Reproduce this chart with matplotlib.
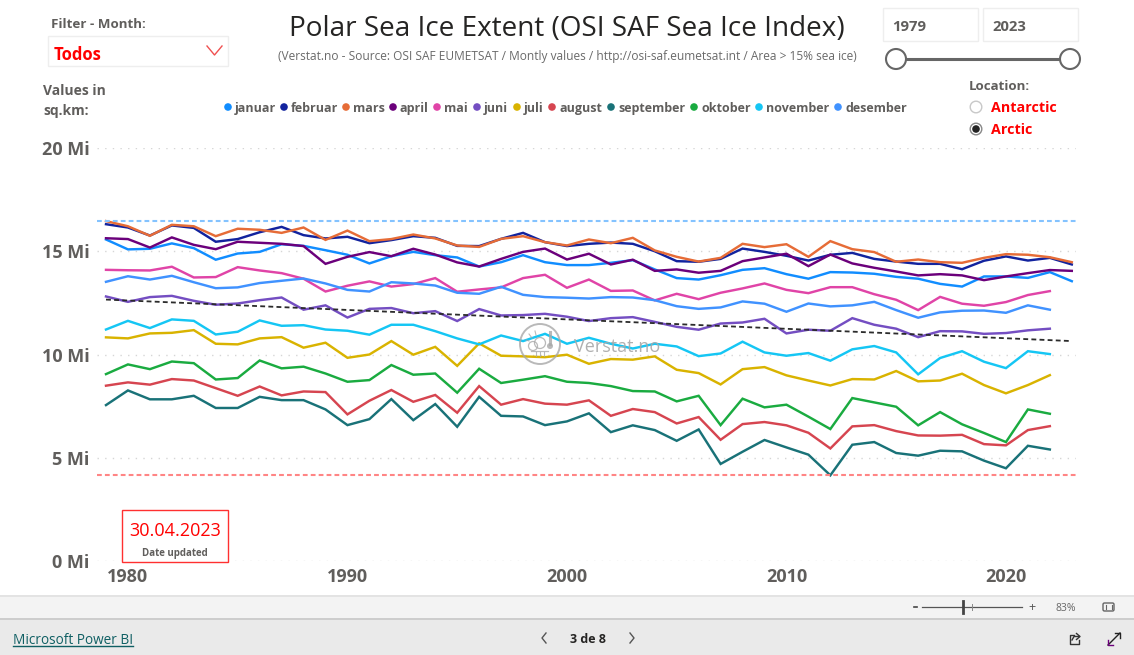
#%% Importing libraries

import numpy as np
import matplotlib
matplotlib.use('Agg')
from matplotlib import pyplot as plt
from matplotlib.patches import Rectangle, Circle, FancyBboxPatch

plt.rcParams['font.family'] = ['Open Sans', 'DejaVu Sans']

#%% Data (millions of sq.km)

years = list(range(1979, 2024))

januar = [15.57, 15.09, 15.12, 15.38, 15.15, 14.59, 14.89, 14.97, 15.34, 15.26, 15.05, 14.83, 14.41, 14.76, 14.97,
          14.81, 14.70, 14.26, 14.47, 14.81, 14.47, 14.33, 14.33, 14.44, 14.57, 14.12, 13.70, 13.63, 13.84, 14.10,
          14.18, 13.89, 13.67, 13.99, 13.97, 13.91, 13.76, 13.67, 13.42, 13.29, 13.78, 13.78, 13.71, 13.99, 13.55]
februar = [16.31, 16.15, 15.76, 16.25, 16.13, 15.46, 15.59, 15.92, 16.18, 15.78, 15.62, 15.70, 15.39, 15.54, 15.73,
           15.65, 15.26, 15.25, 15.60, 15.89, 15.44, 15.25, 15.36, 15.42, 15.36, 15.00, 14.52, 14.49, 14.63, 15.13,
           14.97, 14.78, 14.55, 14.83, 14.92, 14.63, 14.50, 14.39, 14.39, 14.13, 14.54, 14.75, 14.55, 14.68, 14.36]
mars = [16.46, 16.21, 15.75, 16.28, 16.21, 15.73, 16.09, 16.04, 15.89, 16.15, 15.55, 16.00, 15.49, 15.59, 15.81,
        15.62, 15.28, 15.21, 15.60, 15.73, 15.44, 15.28, 15.57, 15.39, 15.65, 15.04, 14.73, 14.50, 14.68, 15.36,
        15.20, 15.34, 14.73, 15.49, 15.10, 14.96, 14.49, 14.60, 14.47, 14.44, 14.68, 14.86, 14.83, 14.71, 14.47]
april = [15.63, 15.59, 15.18, 15.67, 15.31, 15.10, 15.46, 15.41, 15.36, 15.25, 14.39, 14.73, 14.96, 14.76, 15.12,
         14.84, 14.46, 14.26, 14.63, 14.97, 15.13, 14.60, 14.88, 14.36, 14.59, 14.05, 14.12, 13.96, 14.05, 14.52,
         14.70, 14.88, 14.28, 14.84, 14.41, 14.20, 14.02, 13.83, 13.89, 13.83, 13.60, 13.78, 13.94, 14.09, 14.05]
mai = [14.10, 14.08, 14.07, 14.25, 13.73, 13.75, 14.23, 14.07, 13.94, 13.67, 13.05, 13.33, 13.54, 13.29, 13.41,
       13.70, 13.04, 13.15, 13.25, 13.70, 13.86, 13.23, 13.63, 13.08, 13.10, 12.62, 12.94, 12.68, 12.99, 13.20,
       13.44, 13.13, 12.97, 13.26, 13.26, 12.92, 12.65, 12.15, 12.79, 12.46, 12.36, 12.54, 12.88, 13.07]
juni = [12.81, 12.55, 12.78, 12.84, 12.60, 12.41, 12.47, 12.63, 12.76, 12.17, 12.38, 11.79, 12.21, 12.25, 12.00,
        12.10, 11.62, 12.20, 11.89, 11.91, 11.97, 11.83, 11.62, 11.76, 11.81, 11.58, 11.34, 11.20, 11.50, 11.55,
        11.73, 11.02, 11.20, 11.15, 11.76, 11.44, 11.25, 10.84, 11.13, 11.12, 11.00, 11.04, 11.17, 11.25]
juli = [10.83, 10.78, 11.02, 11.05, 11.18, 10.52, 10.49, 10.78, 10.84, 10.33, 10.57, 9.84, 10.00, 10.65, 9.99,
        10.37, 9.45, 10.54, 9.94, 9.91, 9.87, 9.99, 9.55, 9.78, 9.75, 9.91, 9.26, 9.10, 8.55, 9.29,
        9.39, 8.99, 8.74, 8.50, 8.81, 8.79, 9.20, 8.70, 8.74, 9.07, 8.52, 8.12, 8.52, 9.00]
august = [8.49, 8.65, 8.54, 8.81, 8.74, 8.37, 8.00, 8.45, 8.02, 8.21, 8.18, 7.10, 7.76, 8.28, 7.71,
          8.04, 7.18, 8.47, 7.57, 7.84, 7.62, 7.57, 7.78, 7.03, 7.36, 7.21, 6.66, 6.97, 5.87, 6.63,
          6.73, 6.57, 6.21, 5.45, 6.52, 6.58, 6.29, 6.08, 6.07, 6.11, 5.66, 5.60, 6.34, 6.53]
september = [7.55, 8.26, 7.83, 7.83, 8.00, 7.41, 7.41, 7.95, 7.79, 7.79, 7.34, 6.58, 6.87, 7.84, 6.82,
             7.60, 6.50, 7.95, 7.03, 7.00, 6.58, 6.76, 7.15, 6.24, 6.57, 6.34, 5.82, 6.37, 4.70, 5.29,
             5.86, 5.50, 5.15, 4.15, 5.63, 5.76, 5.23, 5.10, 5.34, 5.31, 4.86, 4.49, 5.58, 5.40]
oktober = [9.05, 9.52, 9.29, 9.66, 9.58, 8.79, 8.86, 9.71, 9.33, 9.41, 9.08, 8.68, 8.76, 9.49, 9.02,
           9.08, 8.15, 9.31, 8.62, 8.78, 8.95, 8.68, 8.62, 8.47, 8.23, 8.21, 7.73, 8.00, 6.58, 7.86,
           7.44, 7.57, 6.99, 6.39, 7.89, 7.68, 7.47, 6.57, 7.21, 6.62, 6.20, 5.76, 7.34, 7.13]
november = [11.21, 11.63, 11.28, 11.70, 11.63, 10.97, 11.10, 11.65, 11.39, 11.42, 11.21, 11.15, 10.96, 11.44, 11.44,
            11.13, 10.78, 10.49, 10.92, 10.65, 11.00, 10.52, 10.81, 10.52, 10.29, 10.52, 10.39, 9.92, 10.05, 10.62,
            10.10, 9.94, 10.07, 9.70, 10.25, 10.41, 10.10, 9.04, 9.83, 10.16, 9.65, 9.34, 10.16, 10.02]
desember = [13.52, 13.79, 13.63, 13.81, 13.50, 13.21, 13.25, 13.46, 13.57, 13.68, 13.44, 13.13, 13.05, 13.50, 13.44,
            13.34, 12.99, 12.94, 13.28, 12.89, 12.78, 12.75, 12.71, 12.78, 12.76, 12.63, 12.34, 12.21, 12.28, 12.57,
            12.46, 12.07, 12.47, 12.33, 12.38, 12.55, 12.15, 11.78, 12.04, 12.12, 12.13, 12.02, 12.38, 12.17]

month_names = ['januar', 'februar', 'mars', 'april', 'mai', 'juni', 'juli', 'august',
               'september', 'oktober', 'november', 'desember']
month_values = [januar, februar, mars, april, mai, juni, juli, august, september, oktober, november, desember]
month_colors = ['#118DFF', '#12239E', '#E66C37', '#6B007B', '#E044A7', '#744EC2',
                '#D9B300', '#D64550', '#197278', '#1AAB40', '#15C6F4', '#4092FF']

max_extent = 16.47
min_extent = 4.15
trend_years = [1979, 2023]
trend_values = [12.66, 10.65]

y_ticks = [0, 5, 10, 15, 20]
x_ticks = [1980, 1990, 2000, 2010, 2020]

grey = '#605E5C'
red = '#FF0000'

#%% Figure and chart axes (axes box placed in pixels)

W, H = 1134, 655
fig = plt.figure(figsize=(W/100, H/100), dpi=100, facecolor='white')

ax = fig.add_axes([97/W, (H-561)/H, 979/W, 413/H])
ax.set_xlim(1979-9/21.95, 1979+970/21.95)
ax.set_ylim(0, 20)
for s in ax.spines.values():
    s.set_visible(False)
ax.set_yticks(y_ticks)
ax.set_yticklabels(['%d Mi' % v for v in y_ticks], fontsize=13, fontweight='bold', color=grey)
ax.set_xticks(x_ticks)
ax.set_xticklabels(x_ticks, fontsize=13, fontweight='bold', color=grey)
ax.tick_params(axis='both', length=0)
ax.tick_params(axis='y', pad=5.5)
ax.tick_params(axis='x', pad=5)
ax.grid(axis='y', color='#d6d6d6', lw=1, ls=(0, (1, 4.5)))
ax.set_axisbelow(True)

for name, vals, col in zip(month_names, month_values, month_colors):
    ax.plot(years[:len(vals)], vals, color=col, lw=1.75, solid_joinstyle='miter', label=name)

ax.axhline(max_extent, color='#84C3FF', lw=1.5, ls=(0, (2.3, 1.5)))
ax.axhline(min_extent, color='#FF8585', lw=1.5, ls=(0, (2.3, 1.5)))
ax.plot(trend_years, trend_values, color='#2b2b2b', lw=1.3, ls=(0, (2.7, 1.8)), zorder=3)

#%% Page overlay, in pixel coordinates

ui = fig.add_axes([0, 0, 1, 1], facecolor='none')
ui.set_xlim(0, W)
ui.set_ylim(H, 0)
ui.axis('off')

def txt(x, y, s, size, color=grey, weight='normal', ha='left', **kw):
    # y is the middle of the x-height row, baseline sits a bit under it
    return ui.text(x, y, s, fontsize=size, color=color, fontweight=weight, ha=ha,
                   va='center_baseline', **kw)

txt(567, 26, 'Polar Sea Ice Extent (OSI SAF Sea Ice Index)', 20.1, color='#252423', ha='center')
txt(567, 55, '(Verstat.no - Source: OSI SAF EUMETSAT / Montly values / http://osi-saf.eumetsat.int / Area > 15% sea ice)',
    8.55, color='#6a6a6a', ha='center')

# month filter
txt(51, 22.5, 'Filter - Month:', 9.6, weight='bold')
ui.add_patch(Rectangle((48, 36), 180, 30, fc='white', ec='#eeeeee', lw=1))
txt(54, 52.5, 'Todos', 12, color=red, weight='bold')
ui.plot([207, 214.5, 222], [46, 55, 46], color='#F05050', lw=1)

txt(43, 89.5, 'Values in', 10, weight='bold')
txt(43, 110, 'sq.km:', 10, weight='bold')

# legend row
dot_x = [228, 284, 346, 393, 437, 477, 517, 552, 611, 694, 759, 838]
for x, name, col in zip(dot_x, month_names, month_colors):
    ui.add_patch(Circle((x, 107), 3.8, fc=col, ec='none'))
    txt(x+7, 107, name, 9.0, weight='bold')

# year slicer
for x0, s in zip([883, 983], ['1979', '2023']):
    ui.add_patch(Rectangle((x0, 8), 94.5, 33, fc='white', ec='#eeeeee', lw=1))
    txt(x0+9, 25.5, s, 10.7, weight='bold')
ui.plot([896, 1070], [59, 59], color='#666666', lw=2.2, zorder=3)
for x in [896, 1070]:
    ui.add_patch(Circle((x, 59), 10, fc='white', ec='#666666', lw=1.5, zorder=4))

# location
txt(969, 84.5, 'Location:', 9.5, weight='bold')
txt(991, 106.5, 'Antarctic', 10.3, color=red, weight='bold')
txt(991, 128.5, 'Arctic', 10.3, color=red, weight='bold')
ui.add_patch(Circle((976, 107), 5.8, fc='white', ec='#c8c8c8', lw=1))
ui.add_patch(Circle((976, 129), 5.8, fc='white', ec='#888888', lw=1))
ui.add_patch(Circle((976, 129), 3.8, fc='#222222', ec='none'))

# date card
ui.add_patch(Rectangle((122, 510), 106, 52, fc='white', ec='#FF3030', lw=1, zorder=5))
txt(175, 529, '30.04.2023', 13, color=red, ha='center', zorder=6)
txt(175, 552, 'Date updated', 7, weight='bold', ha='center', zorder=6)

# watermark: ring, cloud, sun rays, thermometer, drips
wm = '#a8a8a8'
ui.add_patch(Circle((540, 344), 20, fc='none', ec=wm, lw=1.4, alpha=0.8, zorder=7))
ui.add_patch(Circle((533, 346), 4.5, fc='none', ec=wm, lw=0.9, alpha=0.8, zorder=7))
ui.add_patch(Circle((540, 343), 5.5, fc='none', ec=wm, lw=0.9, alpha=0.8, zorder=7))
ui.plot([531, 548], [350.5, 350.5], color=wm, lw=0.9, alpha=0.8, zorder=7)
ui.plot([550, 550], [332, 344], color=wm, lw=2.2, alpha=0.8, zorder=7)
ui.add_patch(Circle((550, 346), 3, fc=wm, ec='none', alpha=0.8, zorder=7))
for x0, y0, x1, y1 in [(529, 334, 532, 338), (535, 331, 536, 335), (526, 340, 529, 341)]:
    ui.plot([x0, x1], [y0, y1], color=wm, lw=0.8, alpha=0.8, zorder=7)
for x0 in [536, 540, 544]:
    ui.plot([x0, x0], [352, 356], color=wm, lw=0.8, alpha=0.8, zorder=7)
txt(574, 345, 'Verstat.no', 13, color=wm, alpha=0.9, zorder=7)

# footer bands
ui.add_patch(Rectangle((0, 595), W, 23, fc='#F3F3F3', ec='none'))
ui.add_patch(Rectangle((0, 618), W, 37, fc='#EAEAEA', ec='none'))
ui.plot([0, W], [595.5, 595.5], color='#E0E0E0', lw=1.2)
ui.plot([0, W], [618.5, 618.5], color='#C8C8C8', lw=1.2)

ui.plot([914, 917], [607, 607], color='#444444', lw=1.2)
ui.plot([922, 1022], [607, 607], color='#555555', lw=0.9)
ui.plot([963, 963], [601, 613], color='#444444', lw=2)
ui.plot([972, 972], [604, 610], color='#888888', lw=0.7)
txt(1032, 606.5, '+', 9, color='#555555', ha='center')
txt(1066, 607, '83%', 7.5, color='#666666', ha='center')
ui.add_patch(FancyBboxPatch((1103, 603), 11, 8, boxstyle='round,pad=0,rounding_size=1.5',
                            fc='none', ec='#666666', lw=1))
ui.plot([1105.5, 1105.5], [605, 609], color='#666666', lw=0.8)
ui.plot([1111.5, 1111.5], [605, 609], color='#666666', lw=0.8)

txt(13, 639, 'Microsoft Power BI', 9.8, color='#0F5F63', weight='normal')
ui.plot([13, 133], [646, 646], color='#0F5F63', lw=1)
txt(588, 638, '3 de 8', 9, color='#252423', weight='bold', ha='center')
ui.plot([546, 542, 546], [633, 638, 643], color='#555555', lw=1)
ui.plot([630, 634, 630], [633, 638, 643], color='#555555', lw=1)

# share + expand icons
ui.plot([1074, 1069.5, 1069.5, 1079, 1079], [635, 635, 644, 644, 640], color='#333333', lw=1)
ui.plot([1072, 1074, 1079], [640, 636.5, 636.5], color='#333333', lw=1)
ui.plot([1076.5, 1080, 1076.5], [633.5, 636.5, 639.5], color='#333333', lw=1)
ui.plot([1108, 1120], [645, 633], color='#222222', lw=1)
ui.plot([1108, 1108, 1113], [640, 645, 645], color='#6B007B', lw=1)
ui.plot([1115, 1120, 1120], [633, 633, 638], color='#222222', lw=1)

plt.savefig('out.png', dpi=100)
